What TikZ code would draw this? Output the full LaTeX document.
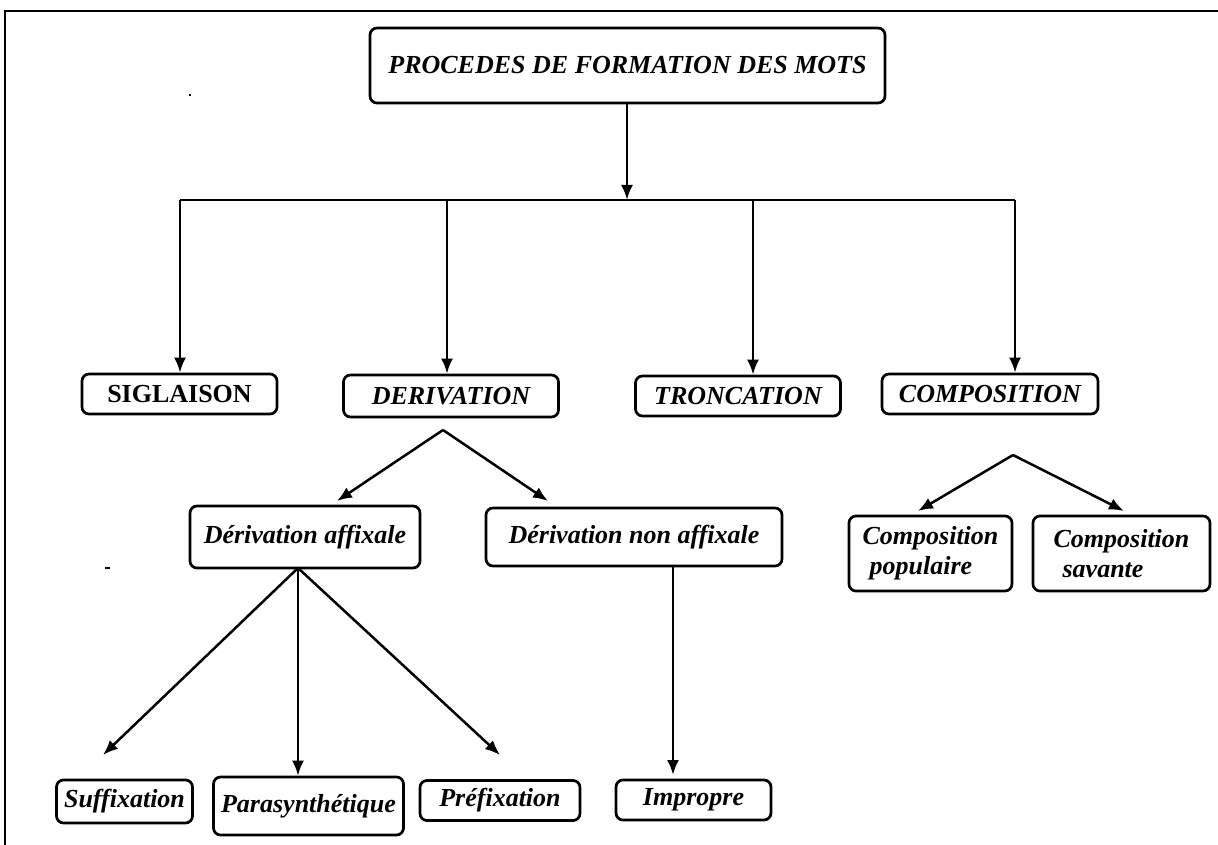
\documentclass[tikz,border=0pt]{standalone}
\usepackage{fontspec}
\setmainfont{Liberation Serif}
\usetikzlibrary{arrows.meta}
\begin{document}
\begin{tikzpicture}[x=1pt,y=-1pt,
  box/.style={draw,line width=2.7pt,rounded corners=7pt,inner sep=0pt,align=center,
    font=\bfseries\itshape\fontsize{26}{30}\selectfont},
  arr/.style={line width=2.5pt,-{Latex[length=15pt,width=12pt]}},
  ln/.style={line width=2.5pt}]
\useasboundingbox (0,0) rectangle (1218,845);
\draw[line width=2.5pt] (1218,11) -- (5,11) -- (5,845);
\fill (189,94) rectangle (191,96);
\fill (105,567) rectangle (110,569);
% level 0
\node[box,minimum width=515pt,minimum height=75pt] (top) at (627.5,65.5) {PROCEDES DE FORMATION DES MOTS};
% level 1
\node[box,minimum width=195pt,minimum height=40pt,font=\bfseries\fontsize{26}{30}\selectfont] (sig) at (179.5,394) {SIGLAISON};
\node[box,minimum width=215pt,minimum height=42pt] (der) at (451,396) {DERIVATION};
\node[box,minimum width=205pt,minimum height=40pt] (tro) at (738,396) {TRONCATION};
\node[box,minimum width=216pt,minimum height=40pt] (com) at (990,394) {COMPOSITION};
% level 2
\node[box,minimum width=230pt,minimum height=62pt] (da) at (305,537) {D\'erivation affixale};
\node[box,minimum width=296pt,minimum height=58pt] (dna) at (634,537) {D\'erivation non affixale};
\node[box,minimum width=163pt,minimum height=75pt,align=left] (cp) at (930.5,553.5) {Composition\\\hspace*{7pt}populaire};
\node[box,minimum width=177pt,minimum height=75pt,align=left] (cs) at (1121.5,553.5) {Composition\\\hspace*{9pt}savante};
% level 3
\node[box,minimum width=136pt,minimum height=43pt] (suf) at (124.5,801.5) {Suffixation};
\node[box,minimum width=190pt,minimum height=58pt] (par) at (308.5,806) {Parasynth\'etique};
\node[box,minimum width=160pt,minimum height=40pt] (pre) at (500,800.5) {Pr\'efixation};
\node[box,minimum width=155pt,minimum height=40pt] (imp) at (693.5,800) {Impropre};
% connectors
\coordinate (hub) at (627,200);
\coordinate (b1) at (180,200);
\coordinate (b2) at (447,200);
\coordinate (b3) at (753,200);
\coordinate (b4) at (1015,200);
\draw[arr] (top.south -| hub) -- (hub);
\draw[ln] (b1) -- (b4);
\draw[arr] (b1) -- (b1 |- sig.north);
\draw[arr] (b2) -- (b2 |- der.north);
\draw[arr] (b3) -- (b3 |- tro.north);
\draw[arr] (b4) -- (b4 |- com.north);
% derivation fork
\coordinate (dfork) at (443,430);
\coordinate (daend) at (337,501);
\coordinate (dnaend) at (548,501);
\draw[arr] (dfork) -- (daend);
\draw[arr] (dfork) -- (dnaend);
% composition fork
\coordinate (cfork) at (1013,455);
\coordinate (cpend) at (918,511);
\coordinate (csend) at (1124,511);
\draw[arr] (cfork) -- (cpend);
\draw[arr] (cfork) -- (csend);
% derivation affixale fork
\coordinate (afork) at (298,568);
\coordinate (sufend) at (103,755);
\coordinate (preend) at (500,755);
\draw[arr] (afork) -- (sufend);
\draw[arr] (afork) -- (afork |- par.north);
\draw[arr] (afork) -- (preend);
\coordinate (dnaout) at (673,567);
\coordinate (impend) at (673,775);
\draw[arr] (dnaout) -- (impend);
\end{tikzpicture}
\end{document}
